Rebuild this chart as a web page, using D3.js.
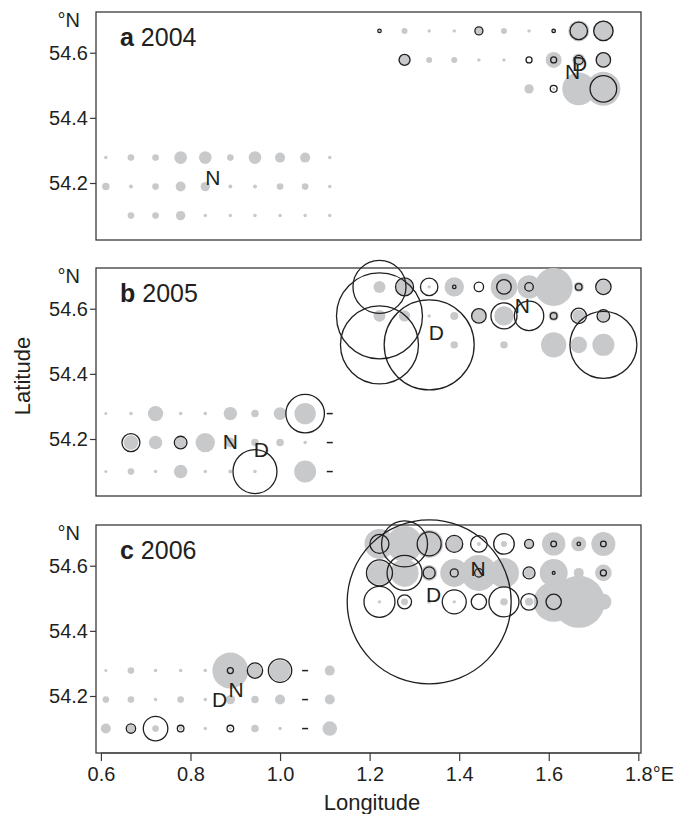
<!DOCTYPE html>
<html><head><meta charset="utf-8">
<script src="https://cdn.jsdelivr.net/npm/d3@7/dist/d3.min.js"></script>
<style>
html,body{margin:0;padding:0;background:#fff;}
svg text{font-family:"Liberation Sans",Arial,Helvetica,sans-serif;fill:#231f20;}
</style></head>
<body><svg id="chart" width="684" height="814"></svg>
<script>
// Station grid (longitude °E and latitude °N)
const stationLon = [0.611,0.667,0.722,0.778,0.833,0.889,0.944,1.000,1.056,1.111,1.167,1.222,1.278,1.333,1.389,1.444,1.500,1.556,1.611,1.667,1.722];
const stationLat = [54.667,54.578,54.489,54.278,54.189,54.100];

// [lon index, lat index, grey value, black-circle value]
const stations2004 = [
[0,3,3,0],[1,3,11,0],[2,3,11,0],[3,3,40,0],[4,3,40,0],[5,3,11,0],[6,3,40,0],[7,3,25,0],[8,3,25,0],[9,3,3,0],
[0,4,14,0],[1,4,4,0],[2,4,11,0],[3,4,25,0],[4,4,22,0],[5,4,4,0],[6,4,4,0],[7,4,11,0],[8,4,11,0],[9,4,3,0],
[1,5,11,0],[2,5,11,0],[3,5,22,0],[4,5,3,0],[5,5,3,0],[6,5,3,0],[7,5,3,0],[8,5,3,0],[9,5,3,0],
[11,0,1,3],[12,0,9,0],[13,0,3,0],[14,0,3,0],[15,0,14,16],[16,0,9,0],[17,0,3,0],[18,0,5,3],[19,0,110,76],[20,0,106,94],
[12,1,36,30],[13,1,9,0],[14,1,9,0],[15,1,3,0],[16,1,3,0],[17,1,0,9],[18,1,64,9],[19,1,42,20],[20,1,59,52],
[17,2,22,0],[18,2,2,12],[19,2,272,0],[20,2,289,177]
];
const stations2005 = [
[0,3,2.3,0],[1,3,3,0],[2,3,59,0],[3,3,3,0],[4,3,3,0],[5,3,45,0],[6,3,14,0],[7,3,40,0],[8,3,114,372],
[1,4,53,81],[2,4,45,0],[3,4,30,40],[4,4,94,0],[5,4,25,0],[6,4,14,0],[7,4,14,0],[8,4,3,0],
[0,5,2.3,0],[1,5,11,0],[2,5,3,0],[3,5,45,0],[4,5,3,0],[5,5,4,0],[6,5,3,484],[8,5,121,0],
[11,0,36,702],[12,0,72,81],[13,0,3,76],[14,0,94,3],[15,0,0,22],[16,0,177,53],[17,0,137,18],[18,0,361,0],[19,0,25,11],[20,0,49,59],
[11,1,36,1849],[12,1,32,0],[13,1,3,0],[14,1,16,0],[15,1,49,53],[16,1,94,169],[17,1,0,216],[18,1,25,11],[19,1,40,59],[20,1,36,40],
[11,2,0,1521],[13,2,0,2025],[14,2,14,0],[16,2,14,0],[18,2,161,0],[19,2,69,0],[20,2,121,1122]
];
const stations2006 = [
[0,3,2.3,0],[1,3,11,0],[2,3,3,0],[3,3,3,0],[4,3,3,0],[5,3,324,9],[6,3,49,59],[7,3,114,137],[9,3,25,0],
[0,4,11,0],[1,4,11,0],[2,4,3,0],[3,4,11,0],[4,4,3,0],[5,4,22,0],[6,4,14,0],[7,4,25,0],[9,4,25,0],
[0,5,25,0],[1,5,16,22],[2,5,11,151],[3,5,4,11],[4,5,3,0],[5,5,2,11],[6,5,14,0],[7,5,3,0],[9,5,53,0],
[11,0,225,90],[12,0,324,529],[13,0,196,144],[14,0,64,72],[15,0,4,69],[16,0,9,106],[17,0,25,20],[18,0,137,8],[19,0,56,3],[20,0,144,8],
[11,1,144,169],[12,1,196,306],[13,1,64,36],[14,1,196,16],[15,1,324,18],[16,1,225,0],[17,1,25,36],[18,1,196,2],[19,1,25,0],[20,1,69,9],
[11,2,3,240],[12,2,12,49],[13,2,4,6724],[14,2,3,144],[15,2,0,59],[16,2,14,225],[17,2,16,69],[18,2,400,59],[19,2,676,0],[20,2,64,0]
];
// stations without data: [lon index, lat index]
const missing2004 = [];
const missing2005 = [[9,3],[9,4],[9,5]];
const missing2006 = [[8,3],[8,4],[8,5]];
// centroid labels [text, lon, lat]
const labels2004 = [["N",0.850,54.218],["N",1.653,54.544],["D",1.669,54.566]];
const labels2005 = [["N",1.541,54.611],["D",1.349,54.528],["N",0.889,54.193],["D",0.958,54.167]];
const labels2006 = [["N",1.442,54.593],["D",1.343,54.511],["N",0.902,54.220],["D",0.865,54.189]];
const panelLetters = ["a","b","c"];
const panelYears = ["2004","2005","2006"];
const latTicks = [54.2,54.4,54.6];
const lonTicks = [0.6,0.8,1.0,1.2,1.4,1.6,1.8];

const panels = [
  {letter:panelLetters[0],year:panelYears[0],st:stations2004,miss:missing2004,lab:labels2004,top:12},
  {letter:panelLetters[1],year:panelYears[1],st:stations2005,miss:missing2005,lab:labels2005,top:268},
  {letter:panelLetters[2],year:panelYears[2],st:stations2006,miss:missing2006,lab:labels2006,top:525}
];
const W = {left:96, right:641}, PH = 228;
const GREY = "#c8c9cb", INK = "#231f20";
const svg = d3.select("#chart");
const x = d3.scaleLinear().domain([0.589,1.806]).range([W.left,W.right]);
const r = d3.scaleSqrt().domain([0,10000]).range([0,100]);

panels.forEach((p,i)=>{
  const y = d3.scaleLinear().domain([54.025,54.725]).range([p.top+PH,p.top]);
  const g = svg.append("g");
  // frame
  g.append("rect").attr("x",W.left).attr("y",p.top).attr("width",W.right-W.left).attr("height",PH)
    .attr("fill","none").attr("stroke","#3a3a3a").attr("stroke-width",1.3);
  // y axis
  const ya = d3.axisLeft(y).tickValues(latTicks).tickSize(6).tickPadding(2).tickFormat(d3.format(".1f"));
  const yg = g.append("g").attr("transform",`translate(${W.left},0)`).call(ya);
  yg.select(".domain").remove();
  yg.selectAll("line").attr("stroke","#3a3a3a").attr("stroke-width",1.2);
  yg.selectAll("text").attr("font-size",20).attr("font-family",null).attr("fill",INK);
  g.append("text").attr("x",80).attr("y",p.top+15).attr("text-anchor","end").attr("font-size",20).text("°N");
  // panel label
  const t = g.append("text").attr("x",120).attr("y",p.top+34).attr("font-size",25);
  t.append("tspan").attr("font-weight","bold").text(p.letter);
  t.append("tspan").text(" "+p.year);
  // grey circles
  g.selectAll(".grey").data(p.st.filter(d=>d[2]>0)).join("circle")
    .attr("cx",d=>x(stationLon[d[0]])).attr("cy",d=>y(stationLat[d[1]]))
    .attr("r",d=>r(d[2])).attr("fill",GREY);
  // black open circles
  g.selectAll(".blk").data(p.st.filter(d=>d[3]>0)).join("circle")
    .attr("cx",d=>x(stationLon[d[0]])).attr("cy",d=>y(stationLat[d[1]]))
    .attr("r",d=>r(d[3])).attr("fill","none").attr("stroke",INK).attr("stroke-width",1.3);
  // missing stations
  g.selectAll(".miss").data(p.miss).join("line")
    .attr("x1",d=>x(stationLon[d[0]])-3).attr("x2",d=>x(stationLon[d[0]])+3)
    .attr("y1",d=>y(stationLat[d[1]])).attr("y2",d=>y(stationLat[d[1]]))
    .attr("stroke",INK).attr("stroke-width",1.5);
  // labels
  g.selectAll(".lab").data(p.lab).join("text")
    .attr("x",d=>x(d[1])).attr("y",d=>y(d[2])).attr("text-anchor","middle")
    .attr("dy","0.36em").attr("font-size",21).text(d=>d[0]);
  // x axis on last panel
  if(i===2){
    const xa = d3.axisBottom(x).tickValues(lonTicks).tickSize(8).tickPadding(6).tickFormat(d3.format(".1f"));
    const xg = g.append("g").attr("transform",`translate(0,${p.top+PH})`).call(xa);
    xg.select(".domain").attr("d",`M${x(0.6)},0H${x(1.8)}`).attr("stroke","#3a3a3a").attr("stroke-width",1.2);
    xg.selectAll("line").attr("stroke","#3a3a3a").attr("stroke-width",1.2);
    xg.selectAll("text").attr("font-size",20).attr("font-family",null).attr("fill",INK);
    const last = xg.selectAll(".tick").filter(d=>d===1.8).select("text");
    const w = last.node().getComputedTextLength();
    last.text("1.8°E").attr("text-anchor","start").attr("x",-w/2);
    g.append("text").attr("x",372).attr("y",p.top+PH+57).attr("text-anchor","middle").attr("font-size",22).text("Longitude");
  }
});
svg.append("text").attr("transform","translate(30,376) rotate(-90)").attr("text-anchor","middle")
  .attr("font-size",22).text("Latitude");
</script></body></html>
